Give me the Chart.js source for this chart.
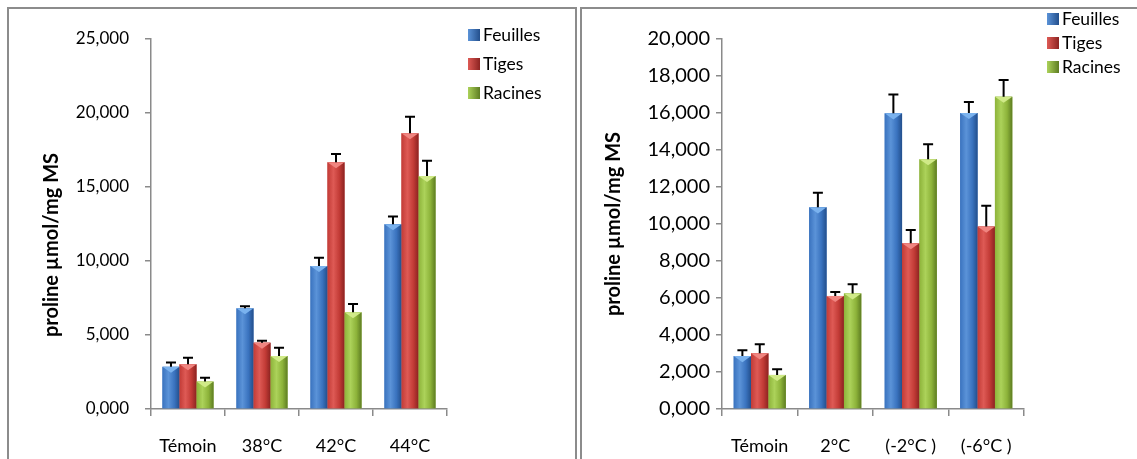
<!DOCTYPE html>
<html>
<head>
<meta charset="utf-8">
<script src="https://cdn.jsdelivr.net/npm/chart.js@4.4.0/dist/chart.umd.min.js"></script>
<style>
    body { margin: 0; background: #fff; width: 1137px; height: 459px; overflow: hidden; position: relative; font-family: Lato, sans-serif; }
    .frame { position: absolute; top: 7px; height: 470px; border: 2px solid #8c8c8c; border-bottom: none; box-sizing: border-box; }
    .wrap { position: absolute; top: 9px; height: 450px; }
    .legend { position: absolute; font-size: 17.5px; color: #000; }
    .legend-item { display: flex; align-items: center; position: absolute; white-space: nowrap; }
    .legend-box { width: 12px; height: 12px; margin-right: 3px; }
</style>
</head>
<body>
<div class="frame" style="left:7px; width:570px;"></div>
<div class="frame" style="left:580px; width:570px; border-right:none;"></div>

<div class="wrap" style="left:9px; width:566px;"><canvas id="heatChart"></canvas></div>
<div class="wrap" style="left:582px; width:555px;"><canvas id="coldChart"></canvas></div>

<div class="legend" id="heatLegend" style="left:468px; top:0;"></div>
<div class="legend" id="coldLegend" style="left:1047px; top:0;"></div>

<script>
// Proline content, heat stress (left) and cold stress (right)
const seriesNames = ['Feuilles', 'Tiges', 'Racines'];

const heatLabels = ['Témoin', '38°C', '42°C', '44°C'];
const feuillesHeat = [2.85, 6.80, 9.66, 12.48];
const tigesHeat = [3.02, 4.48, 16.67, 18.63];
const racinesHeat = [1.85, 3.58, 6.53, 15.74];
const feuillesHeatErr = [0.30, 0.15, 0.56, 0.52];
const tigesHeatErr = [0.45, 0.13, 0.56, 1.12];
const racinesHeatErr = [0.26, 0.56, 0.56, 1.04];
const heatTicks = [0, 5, 10, 15, 20, 25];

const coldLabels = ['Témoin', '2°C', '(-2°C )', '(-6°C )'];
const feuillesCold = [2.86, 10.90, 15.98, 16.00];
const tigesCold = [3.01, 6.11, 8.96, 9.86];
const racinesCold = [1.84, 6.25, 13.50, 16.88];
const feuillesColdErr = [0.32, 0.79, 1.02, 0.59];
const tigesColdErr = [0.49, 0.22, 0.72, 1.13];
const racinesColdErr = [0.31, 0.49, 0.81, 0.90];
const coldTicks = [0, 2, 4, 6, 8, 10, 12, 14, 16, 18, 20];

const yTitle = 'proline µmol/mg MS';

// Excel-like bevel shades per series
const palettes = [
    { base: '#3a73bf', dark: '#234f8c', light: '#5b93d8', top: '#7ab2ee' },
    { base: '#c23b36', dark: '#8c2321', light: '#de5a55', top: '#f08580' },
    { base: '#8db33a', dark: '#5e7d22', light: '#acd25a', top: '#d0ea88' }
];

const axisGray = '#8a8a8a';

// Shade bars and draw the upper error bars
const bevelPlugin = {
    id: 'bevel',
    afterDatasetsDraw(chart) {
        const ctx = chart.ctx;
        const yScale = chart.scales.y;
        ctx.save();
        chart.data.datasets.forEach((ds, di) => {
            const pal = palettes[di];
            chart.getDatasetMeta(di).data.forEach((bar, i) => {
                const { x, y, base, width } = bar.getProps(['x', 'y', 'base', 'width'], true);
                const l = x - width / 2, r = x + width / 2;
                const g = ctx.createLinearGradient(l, 0, r, 0);
                g.addColorStop(0, pal.base);
                g.addColorStop(0.35, pal.light);
                g.addColorStop(0.7, pal.base);
                g.addColorStop(1, pal.dark);
                ctx.fillStyle = g;
                ctx.fillRect(l, y, width, base - y);
                ctx.beginPath();
                ctx.moveTo(l, y);
                ctx.lineTo(r, y);
                ctx.lineTo(x, y + width * 0.35);
                ctx.closePath();
                ctx.fillStyle = pal.top;
                ctx.fill();
            });
        });
        chart.data.datasets.forEach((ds, di) => {
            chart.getDatasetMeta(di).data.forEach((bar, i) => {
                const { x, y } = bar.getProps(['x', 'y'], true);
                const yt = yScale.getPixelForValue(ds.data[i] + ds.errors[i]);
                ctx.strokeStyle = '#000';
                ctx.lineWidth = 2;
                ctx.beginPath();
                ctx.moveTo(x, y);
                ctx.lineTo(x, yt);
                ctx.moveTo(x - 5, yt);
                ctx.lineTo(x + 5, yt);
                ctx.stroke();
            });
        });
        ctx.restore();
    }
};

// Rotated y axis title
const yTitlePlugin = {
    id: 'yTitle',
    afterDraw(chart, args, opts) {
        const ctx = chart.ctx;
        const area = chart.chartArea;
        ctx.save();
        ctx.translate(area.left - opts.dx, (area.top + area.bottom) / 2 + opts.dy);
        ctx.rotate(-Math.PI / 2);
        ctx.font = 'bold 20px Lato, sans-serif';
        ctx.fillStyle = '#000';
        ctx.textAlign = 'center';
        ctx.textBaseline = 'middle';
        ctx.fillText(yTitle, 0, 0);
        ctx.restore();
    }
};

function makeChart(id, labels, values, errors, ticks, cfg) {
    const ctx = document.getElementById(id).getContext('2d');
    return new Chart(ctx, {
        type: 'bar',
        data: {
            labels: labels,
            datasets: seriesNames.map((name, i) => ({
                label: name,
                data: values[i],
                errors: errors[i],
                backgroundColor: palettes[i].base,
                borderWidth: 0,
                categoryPercentage: 0.69,
                barPercentage: 1
            }))
        },
        options: {
            responsive: true,
            maintainAspectRatio: false,
            animation: false,
            devicePixelRatio: 1,
            layout: { padding: { left: 0, top: 30, right: cfg.right, bottom: 0 } },
            plugins: {
                legend: { display: false },
                tooltip: { enabled: false },
                yTitle: { dx: cfg.titleDx, dy: cfg.titleDy }
            },
            scales: {
                x: {
                    offset: true,
                    grid: { display: true, offset: true, drawOnChartArea: false, color: axisGray, lineWidth: 1.5, tickLength: 7 },
                    border: { color: axisGray, width: 1.5 },
                    ticks: { color: '#000', font: { family: 'Lato', size: 18 }, padding: 19, maxRotation: 0 },
                    afterFit: s => { s.height = 50; }
                },
                y: {
                    min: 0,
                    max: ticks[ticks.length - 1],
                    afterBuildTicks: s => { s.ticks = ticks.map(v => ({ value: v })); },
                    grid: { display: true, drawOnChartArea: false, color: axisGray, lineWidth: 1.5, tickLength: 6 },
                    border: { color: axisGray, width: 1.5 },
                    ticks: {
                        color: '#000',
                        font: { family: 'Lato', size: cfg.tickSize },
                        padding: cfg.tickPad,
                        callback: v => v.toFixed(3).replace('.', ',')
                    },
                    afterFit: s => { s.width = cfg.yWidth; }
                }
            }
        },
        plugins: [bevelPlugin, yTitlePlugin]
    });
}

function makeLegend(id, spacing, firstTop) {
    const el = document.getElementById(id);
    el.innerHTML = seriesNames.map((name, i) => `
        <div class="legend-item" style="top:${firstTop + i * spacing}px">
            <div class="legend-box" style="background:linear-gradient(90deg, ${palettes[i].light}, ${palettes[i].dark});"></div>
            <span>${name}</span>
        </div>
    `).join('');
}

makeChart('heatChart', heatLabels,
    [feuillesHeat, tigesHeat, racinesHeat],
    [feuillesHeatErr, tigesHeatErr, racinesHeatErr],
    heatTicks,
    { right: 128, yWidth: 142, tickSize: 17, tickPad: 16, titleDx: 99, titleDy: 21 });

makeChart('coldChart', coldLabels,
    [feuillesCold, tigesCold, racinesCold],
    [feuillesColdErr, tigesColdErr, racinesColdErr],
    coldTicks,
    { right: 113, yWidth: 140, tickSize: 20, tickPad: 6, titleDx: 108, titleDy: 0 });

makeLegend('heatLegend', 29, 24);
makeLegend('coldLegend', 24, 8);
</script>
</body>
</html>
